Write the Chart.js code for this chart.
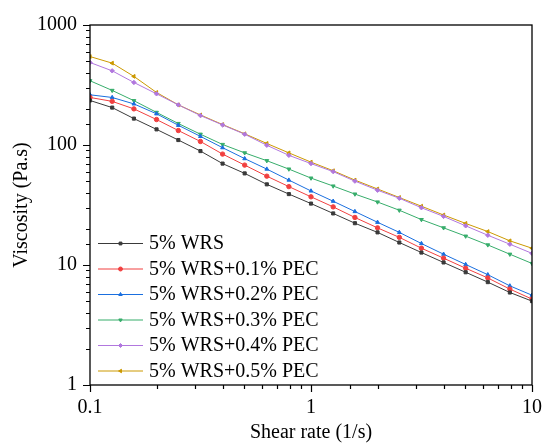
<!DOCTYPE html>
<html>
<head>
<meta charset="utf-8">
<script src="https://cdn.jsdelivr.net/npm/chart.js@4.4.0/dist/chart.umd.min.js"></script>
<style>
  body { margin: 0; background: #fff; }
  #wrap { width: 543px; height: 443px; }
</style>
</head>
<body>
<div id="wrap"><canvas id="viscChart" width="543" height="443"></canvas></div>
<script>
// shear rate (1/s)
const shearRate = [0.1, 0.126, 0.158, 0.2, 0.251, 0.316, 0.398, 0.501, 0.631, 0.794, 1,
    1.26, 1.58, 2, 2.51, 3.16, 3.98, 5.01, 6.31, 7.94, 10];

// viscosity (Pa.s) per sample
const wrs = [235, 205, 166, 135, 110, 89, 70, 58, 47, 39, 32.5, 26.9, 22.3, 18.7, 15.4, 12.7, 10.5, 8.7, 7.2, 5.9, 5.0];
const pec01 = [249, 231, 200, 163, 132, 107, 84, 68, 55, 45, 37, 30.5, 24.9, 20.4, 17, 13.8, 11.4, 9.4, 7.8, 6.3, 5.2];
const pec02 = [262, 249, 220, 182, 146, 118, 95, 77, 63, 51, 41.4, 34, 27.9, 22.7, 18.7, 15.1, 12.3, 10.1, 8.3, 6.7, 5.6];
const pec03 = [343, 285, 234, 187, 151, 123, 101, 86, 74, 63, 53, 45.5, 39, 33.5, 28.6, 23.9, 20.4, 17.4, 14.7, 12.3, 10.3];
const pec04 = [487, 415, 332, 267, 216, 176, 147, 123, 99.5, 82, 70, 60, 50, 42, 36, 30, 25.4, 21.2, 17.7, 14.9, 12.5];
const pec05 = [546, 481, 373, 274, 216, 178, 148, 124, 103, 86, 72, 61, 51, 43, 36.5, 30.9, 26.1, 22.2, 19, 15.9, 13.8];

const seriesNames = ['5% WRS', '5% WRS+0.1% PEC', '5% WRS+0.2% PEC', '5% WRS+0.3% PEC', '5% WRS+0.4% PEC', '5% WRS+0.5% PEC'];
const seriesData = [wrs, pec01, pec02, pec03, pec04, pec05];
const colors = ['#3a3a3a', '#f14040', '#1a6fdf', '#37ad6b', '#b177de', '#cc9900'];
const markers = ['rect', 'circle', 'triangle', 'triangle', 'rectRot', 'triangle'];
const markerRot = [0, 0, 0, 180, 0, -90];

const xTicks = [0.1, 1, 10];
const yTicks = [1, 10, 100, 1000];

const FONT = "'Liberation Serif', 'Times New Roman', serif";

const datasets = seriesData.map((vals, i) => ({
    label: seriesNames[i],
    data: vals.map((v, j) => ({ x: shearRate[j], y: v })),
    borderColor: colors[i],
    backgroundColor: colors[i],
    borderWidth: 1,
    pointStyle: markers[i],
    rotation: markerRot[i],
    pointRadius: 2.2,
    pointHoverRadius: 2.2,
    tension: 0
}));

function isDecade(v) {
    const l = Math.log10(v);
    return Math.abs(l - Math.round(l)) < 1e-6;
}

// box, outward ticks and legend
const framePlugin = {
    id: 'frame',
    afterDraw(chart) {
        const ctx = chart.ctx;
        const a = chart.chartArea;
        const xs = chart.scales.x, ys = chart.scales.y;
        ctx.save();
        ctx.strokeStyle = '#000';
        ctx.lineWidth = 1.3;
        ctx.strokeRect(a.left, a.top, a.right - a.left, a.bottom - a.top);

        ctx.lineWidth = 1.2;
        ctx.beginPath();
        xs.ticks.forEach(t => {
            const px = Math.round(xs.getPixelForValue(t.value)) + 0.5;
            const len = isDecade(t.value) ? 7 : 4;
            ctx.moveTo(px, a.bottom);
            ctx.lineTo(px, a.bottom + len);
        });
        ys.ticks.forEach(t => {
            const py = Math.round(ys.getPixelForValue(t.value)) + 0.5;
            const len = isDecade(t.value) ? 7 : 4;
            ctx.moveTo(a.left, py);
            ctx.lineTo(a.left - len, py);
        });
        ctx.stroke();

        // legend
        const lx = a.left + 8;
        let ly = a.bottom - 142;
        ctx.font = '20px ' + FONT;
        ctx.textBaseline = 'middle';
        ctx.fillStyle = '#000';
        chart.data.datasets.forEach((ds, i) => {
            ctx.strokeStyle = ds.borderColor;
            ctx.lineWidth = 1;
            ctx.beginPath();
            ctx.moveTo(lx, ly + 0.5);
            ctx.lineTo(lx + 45, ly + 0.5);
            ctx.stroke();
            ctx.fillStyle = ds.backgroundColor;
            Chart.helpers.drawPoint(ctx, {
                pointStyle: ds.pointStyle, rotation: ds.rotation,
                radius: 2, borderWidth: 1
            }, lx + 22.5, ly + 0.5);
            ctx.fillStyle = '#000';
            ctx.fillText(ds.label, lx + 51, ly + 1);
            ly += 25.5;
        });
        ctx.restore();
    }
};

const ctx = document.getElementById('viscChart').getContext('2d');
const viscChart = new Chart(ctx, {
    type: 'line',
    data: { datasets: datasets },
    options: {
        responsive: false,
        animation: false,
        events: [],
        layout: { padding: { top: 25, right: 11, left: 0, bottom: 0 } },
        plugins: {
            legend: { display: false },
            tooltip: { enabled: false }
        },
        scales: {
            x: {
                type: 'logarithmic',
                min: 0.1,
                max: 10,
                afterFit: s => { s.height = 58; s.paddingRight = 0; s.paddingLeft = 0; },
                grid: { display: false, drawTicks: false },
                border: { display: false },
                ticks: {
                    autoSkip: false,
                    maxRotation: 0,
                    padding: 11,
                    color: '#000',
                    font: { family: FONT, size: 20 },
                    callback: v => (xTicks.some(t => Math.abs(t - v) < 1e-9) ? String(v) : '')
                },
                title: {
                    display: true,
                    text: 'Shear rate (1/s)',
                    color: '#000',
                    font: { family: FONT, size: 20, lineHeight: 1 },
                    padding: 0
                }
            },
            y: {
                type: 'logarithmic',
                min: 1,
                max: 1000,
                afterFit: s => { s.width = 90; },
                grid: { display: false, drawTicks: false },
                border: { display: false },
                ticks: {
                    autoSkip: false,
                    padding: 13,
                    color: '#000',
                    font: { family: FONT, size: 20 },
                    callback: v => (yTicks.some(t => Math.abs(t - v) < 1e-9) ? String(v) : '')
                },
                title: {
                    display: true,
                    text: 'Viscosity (Pa.s)',
                    color: '#000',
                    font: { family: FONT, size: 20, lineHeight: 1 },
                    padding: { top: 12, bottom: 0 }
                }
            }
        }
    },
    plugins: [framePlugin]
});
</script>
</body>
</html>
